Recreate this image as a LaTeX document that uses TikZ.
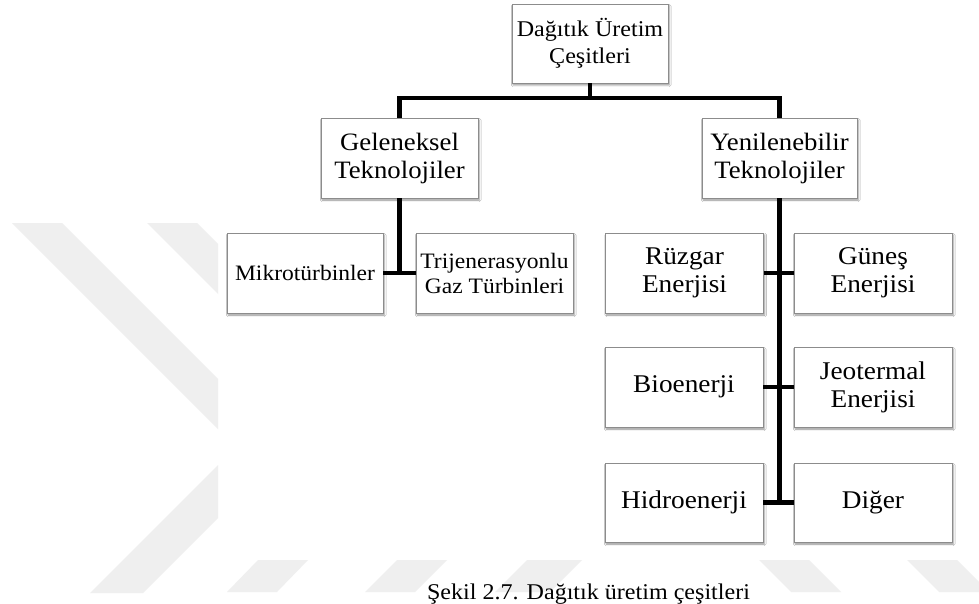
\documentclass[tikz,border=0pt]{standalone}
\usepackage{fontspec}
\setmainfont{Liberation Serif}[FakeStretch=1.07]
\usetikzlibrary{shadows.blur}

\definecolor{boxline}{RGB}{140,140,140}
\definecolor{wmgray}{RGB}{239,239,239}

\tikzset{
  box/.style={draw=boxline, line width=0.8pt, fill=white, inner sep=0pt,
    minimum width=157pt, minimum height=80pt, align=center,
    blur shadow={shadow xshift=1.2pt, shadow yshift=-2pt,
                 shadow blur radius=1.8pt, shadow opacity=45}},
  conn/.style={draw=black, line width=4.5pt},
  wm/.style={fill=wmgray, draw=none},
  fA/.style={font=\fontsize{22.5}{27}\selectfont},
  fB/.style={font=\fontsize{25}{28}\selectfont},
  fC/.style={font=\fontsize{22}{25}\selectfont},
  fD/.style={font=\fontsize{25.5}{28}\selectfont},
}

\begin{document}
\begin{tikzpicture}[x=1pt, y=-1pt]
  \useasboundingbox (0,0) rectangle (979,604);
  \fill[white] (0,0) rectangle (979,604);

  % faint background watermark
  \fill[wm] (12,223) -- (62,223) -- (218,379) -- (218,429) -- cycle;
  \fill[wm] (147,223) -- (197,223) -- (218,244) -- (218,294) -- cycle;
  \fill[wm] (90,593) -- (143,593) -- (218,518) -- (218,465) -- cycle;
  \fill[wm] (258,560) -- (308,560) -- (277,592) -- (227,592) -- cycle;
  \fill[wm] (397,560) -- (447,560) -- (415,592) -- (365,592) -- cycle;
  \fill[wm] (527,560) -- (582,560) -- (550,592) -- (495,592) -- cycle;
  \fill[wm] (759,560) -- (809,560) -- (841,592) -- (791,592) -- cycle;
  \fill[wm] (907,560) -- (957,560) -- (979,582) -- (979,592) -- (939,592) -- cycle;

  % boxes
  \node[box, fA, minimum width=156pt, minimum height=79pt] (top) at (590,43.5) {Dağıtık Üretim\\Çeşitleri};
  \node[box, fB] (gel) at (399.5,158) {Geleneksel\\Teknolojiler};
  \node[box, fB, minimum width=155pt] (yen) at (779.5,158) {Yenilenebilir\\Teknolojiler};

  \node[box, fC, minimum width=156pt] (mik) at (305,273) {Mikrotürbinler};
  \node[box, fC] (tri) at (494.5,273) {Trijenerasyonlu\\Gaz Türbinleri};

  \node[box, fD, minimum width=158pt] (ruz) at (684.5,273) {Rüzgar\\Enerjisi};
  \node[box, fD, minimum width=158pt] (gun) at (873,273) {Güneş\\Enerjisi};
  \node[box, fD, minimum width=158pt] (bio) at (684,387) {Bioenerji};
  \node[box, fD, minimum width=158pt] (jeo) at (873,387) {Jeotermal\\Enerjisi};
  \node[box, fD, minimum width=158pt, minimum height=79pt] (hid) at (684,502.5) {Hidroenerji};
  \node[box, fD, minimum width=158pt, minimum height=79pt] (dig) at (873,502.5) {Diğer};

  % connectors
  \coordinate (bus) at (590,98);
  \draw[conn] (top.south) -- (bus);
  \draw[conn] (gel.north) |- (bus) -| (yen.north);

  \draw[conn] (gel.south) -- (gel.south |- mik.east);
  \draw[conn] (mik.east) -- (tri.west);

  \draw[conn] (yen.south) -- (yen.south |- hid.east);
  \draw[conn] (ruz.east) -- (gun.west);
  \draw[conn] (bio.east) -- (jeo.west);
  \draw[conn] (hid.east) -- (dig.west);

  % caption
  \node[anchor=base, inner sep=0pt, font=\fontsize{22.5}{27}\selectfont] (cap) at (588.5,599)
    {Şekil 2.7. Dağıtık üretim çeşitleri};
\end{tikzpicture}
\end{document}
